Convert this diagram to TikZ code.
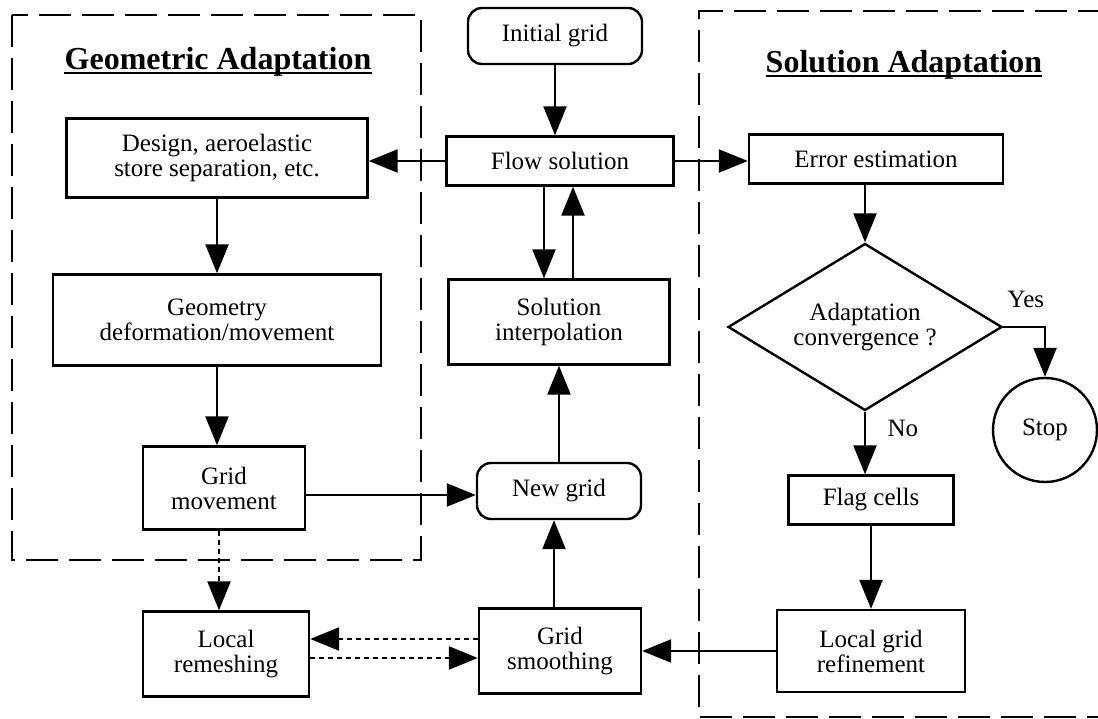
\documentclass[tikz,border=0pt]{standalone}
\usepackage{fontspec}
\setmainfont{Liberation Serif}
\usetikzlibrary{
  arrows.meta,
  shapes.geometric,
  chains,
  positioning,
  scopes
}

\begin{document}
\begin{tikzpicture}[
      x=1pt,y=-1pt,
      process/.style={
         rectangle,
         draw=black,
         line width=2.4pt,
         align=center,
         inner sep=0pt,
         font=\fontsize{25}{25}\selectfont
      },
      terminal/.style={
         process,
         rounded corners=14pt
      },
      decision/.style={
         process,
         diamond,
         aspect=1.64
      },
      halt/.style={
         process,
         circle
      },
      label text/.style={font=\fontsize{25}{25}\selectfont},
      title/.style={font=\fontsize{32}{32}\selectfont\bfseries, anchor=base, inner sep=0pt},
      underline/.style={line width=2.2pt},
      frame/.style={line width=2.4pt, dash pattern=on 32pt off 11pt},
      tip/.style={-{Triangle[length=29pt,width=23pt]}, line width=2.4pt},
      dotted tip/.style={tip, dash pattern=on 5pt off 4pt},
      hv path/.style={to path={-| (\tikztotarget)}},
      vh path/.style={to path={|- (\tikztotarget)}}
    ]
    \useasboundingbox (0,0) rectangle (1098,719);
    % dashed frames
    \draw[frame] (12,15) rectangle (421,560);
    \draw[frame] (1110,11) -- (699,11) -- (699,717) -- (1110,717);
    \node (geotitle) [title] at (218,70) {Geometric Adaptation};
    \node (soltitle) [title] at (904,73) {Solution Adaptation};
    \draw[underline] ([yshift=-3pt]geotitle.base west) -- ([yshift=-3pt]geotitle.base east);
    \draw[underline] ([yshift=-3pt]soltitle.base west) -- ([yshift=-3pt]soltitle.base east);
    % centre column
    \node (init) [terminal, minimum width=174pt, minimum height=56pt] at (555,36) {Initial grid};
    \node (flow) [process, minimum width=227pt, minimum height=49pt] at (560,161) {Flow solution};
    \node (interp) [process, minimum width=221pt, minimum height=85pt] at (559,322) {Solution\\interpolation};
    \node (newgrid) [terminal, minimum width=164pt, minimum height=56pt] at (559,491) {New grid};
    \node (smooth) [process, minimum width=162pt, minimum height=85pt] at (560,651) {Grid\\smoothing};
    % left column
    \node (design) [process, minimum width=301pt, minimum height=79pt] at (217,158) {Design, aeroelastic\\store separation, etc.};
    \node (geom) [process, minimum width=328pt, minimum height=91pt] at (217,320) {Geometry\\deformation/movement};
    \node (gridmove) [process, minimum width=162pt, minimum height=83pt] at (224,488) {Grid\\movement};
    \node (remesh) [process, minimum width=166pt, minimum height=85pt] at (226,654) {Local\\remeshing};
    % right column
    \node (error) [process, minimum width=254pt, minimum height=49pt] at (876,159) {Error estimation};
    \node (decide) [decision, minimum width=274pt, minimum height=167pt] at (865,327) {Adaptation\\convergence ?};
    \node (stop) [halt, minimum size=104pt] at (1045,430) {Stop};
    \node (flag) [process, minimum width=165pt, minimum height=49pt] at (871,500) {Flag cells};
    \node (refine) [process, minimum width=188pt, minimum height=82pt] at (871,651) {Local grid\\refinement};
    \node (yes) [label text, above right=16pt and 1pt of decide.east] {Yes};
    \node (no) [label text, below right=5pt and 19pt of decide.south] {No};

  { [start chain]
       \chainin (design);
       \chainin (geom)    [join=by tip];
  }
  { [start chain]
       \chainin (newgrid);
       \chainin (interp)    [join=by tip];
  }
  { [start chain]
       \chainin (refine);
       \chainin (smooth)    [join=by tip];
  }
  { [start chain]
       \chainin (decide);
       \chainin (stop)    [join=by {hv path,tip}];
  }
  { [start chain]
       \chainin (flag);
       \chainin (refine)    [join=by tip];
  }
    \draw[tip] (init) -- (init |- flow.north);
    \draw[tip] (flow.west) -- (flow.west -| design.east);
    \draw[tip] (flow.east) -- (flow.east -| error.west);
    \draw[tip] ([xshift=-16pt]flow.south) -- ([xshift=-16pt]flow.south |- interp.north);
    \draw[tip] ([xshift=14pt]interp.north) -- ([xshift=14pt]interp.north |- flow.south);
    \draw[tip] (geom) -- (geom |- gridmove.north);
    \draw[tip] ([yshift=-7pt]gridmove.east) -- ([yshift=-7pt]gridmove.east -| newgrid.west);
    \draw[tip] ([xshift=-6pt]smooth.north) -- ([xshift=-6pt]smooth.north |- newgrid.south);
    \draw[dotted tip] ([xshift=-5pt]gridmove.south) -- ([xshift=-5pt]gridmove.south |- remesh.north);
    \draw[dotted tip] ([yshift=12pt]smooth.west) -- ([yshift=12pt]smooth.west -| remesh.east);
    \draw[dotted tip] ([yshift=-4pt]remesh.east) -- ([yshift=-4pt]remesh.east -| smooth.west);
    \draw[tip] (decide.north |- error.south) -- (decide.north);
    \draw[tip] (decide.south) -- (decide.south |- flag.north);
\end{tikzpicture}
\end{document}
